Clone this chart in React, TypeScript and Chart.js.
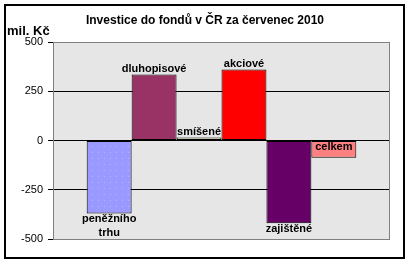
import React, { useEffect, useRef } from "react";
import { Chart, registerables } from "chart.js";
Chart.register(...registerables);

const chartTitle = "Investice do fondů v ČR za červenec 2010";
const unitLabel = "mil. Kč";
const categories = ["peněžního trhu", "dluhopisové", "smíšené", "akciové", "zajištěné", "celkem"];
const categoryLabelLines = [["peněžního", "trhu"], ["dluhopisové"], ["smíšené"], ["akciové"], ["zajištěné"], ["celkem"]];
const values = [-370, 335, 15, 360, -420, -87];
const barColors = ["#9999FF", "#993366", "#FFFFCC", "#FF0000", "#660066", "#FF8080"];
const yMin = -500;
const yMax = 500;
const yStep = 250;

const FONT = "'Liberation Sans', Arial, sans-serif";

function makeDotPattern(base: string, dot: string) {
  const c = document.createElement("canvas");
  c.width = 6;
  c.height = 6;
  const g = c.getContext("2d")!;
  g.fillStyle = base;
  g.fillRect(0, 0, 6, 6);
  g.fillStyle = dot;
  g.fillRect(2, 2, 1, 1);
  return g.createPattern(c, "repeat");
}

const decorPlugin = {
  id: "decor",
  beforeDraw(chart: any) {
    const { ctx, chartArea: a } = chart;
    ctx.save();
    ctx.fillStyle = "#ffffff";
    ctx.fillRect(0, 0, chart.width, chart.height);
    ctx.fillStyle = "#e6e6e6";
    ctx.fillRect(a.left, a.top, a.right - a.left, a.bottom - a.top);
    ctx.restore();
  },
  afterDraw(chart: any) {
    const { ctx, chartArea: a } = chart;
    ctx.save();
    ctx.strokeStyle = "#808080";
    ctx.lineWidth = 1;
    ctx.strokeRect(a.left + 0.5, a.top + 0.5, a.right - a.left - 1, a.bottom - a.top);
    ctx.strokeStyle = "#000";
    ctx.lineWidth = 2;
    ctx.strokeRect(5, 5, 399, 253);
    ctx.fillStyle = "#000";
    ctx.textAlign = "center";
    ctx.textBaseline = "alphabetic";
    ctx.font = `bold 12px ${FONT}`;
    ctx.fillText(chartTitle, 205, 24);
    ctx.textAlign = "left";
    ctx.font = `bold 13px ${FONT}`;
    ctx.fillText(unitLabel, 7, 35);
    ctx.restore();
  },
  afterDatasetsDraw(chart: any) {
    const { ctx } = chart;
    ctx.save();
    ctx.font = `bold 11px ${FONT}`;
    ctx.fillStyle = "#000";
    ctx.textAlign = "center";
    ctx.textBaseline = "middle";
    chart.data.datasets.forEach((ds: any, i: number) => {
      const bar = chart.getDatasetMeta(i).data[0];
      if (!bar) return;
      const lines = categoryLabelLines[i];
      const v = values[i];
      const last = i === values.length - 1;
      if (last) {
        ctx.fillText(lines[0], bar.x, bar.base + 6);
      } else if (v >= 0) {
        lines.forEach((l: string, k: number) => {
          ctx.fillText(l, bar.x, bar.y - 6 - (lines.length - 1 - k) * 14);
        });
      } else {
        lines.forEach((l: string, k: number) => {
          ctx.fillText(l, bar.x, bar.y + 6 + k * 14);
        });
      }
    });
    ctx.restore();
  },
};

export default function App() {
  const ref = useRef<HTMLCanvasElement>(null);
  useEffect(() => {
    const canvas = ref.current!;
    const pattern = makeDotPattern(barColors[0], "#b3b3ff");
    const chart = new Chart(canvas, {
      type: "bar",
      data: {
        labels: [""],
        datasets: categories.map((c, i) => ({
          label: c,
          data: [values[i]],
          backgroundColor: i === 0 && pattern ? pattern : barColors[i],
          borderColor: "#000",
          borderWidth: 1,
          borderSkipped: false,
          categoryPercentage: 0.8,
          barPercentage: 1,
        })),
      },
      options: {
        responsive: false,
        animation: false,
        layout: { padding: { top: 42, bottom: 25, right: 19, left: 0 } },
        plugins: {
          legend: { display: false },
          title: { display: false },
          tooltip: { enabled: false },
        },
        scales: {
          x: { display: false, offset: true },
          y: {
            min: yMin,
            max: yMax,
            afterFit: (s: any) => {
              s.width = 53;
            },
            ticks: {
              stepSize: yStep,
              color: "#000",
              padding: 5,
              font: { family: FONT, size: 11 },
            },
            border: { color: "#808080" },
            grid: {
              color: (c: any) => (c.tick && Math.abs(c.tick.value) === yMax ? "rgba(0,0,0,0)" : "#000"),
              tickColor: "#000",
              tickLength: 5,
            },
          },
        },
      },
      plugins: [decorPlugin],
    } as any);
    return () => chart.destroy();
  }, []);
  return (
    <div style={{ position: "fixed", left: 0, top: 0, width: 409, height: 264 }}>
      <canvas ref={ref} width={409} height={264} style={{ width: 409, height: 264, display: "block" }} />
    </div>
  );
}
